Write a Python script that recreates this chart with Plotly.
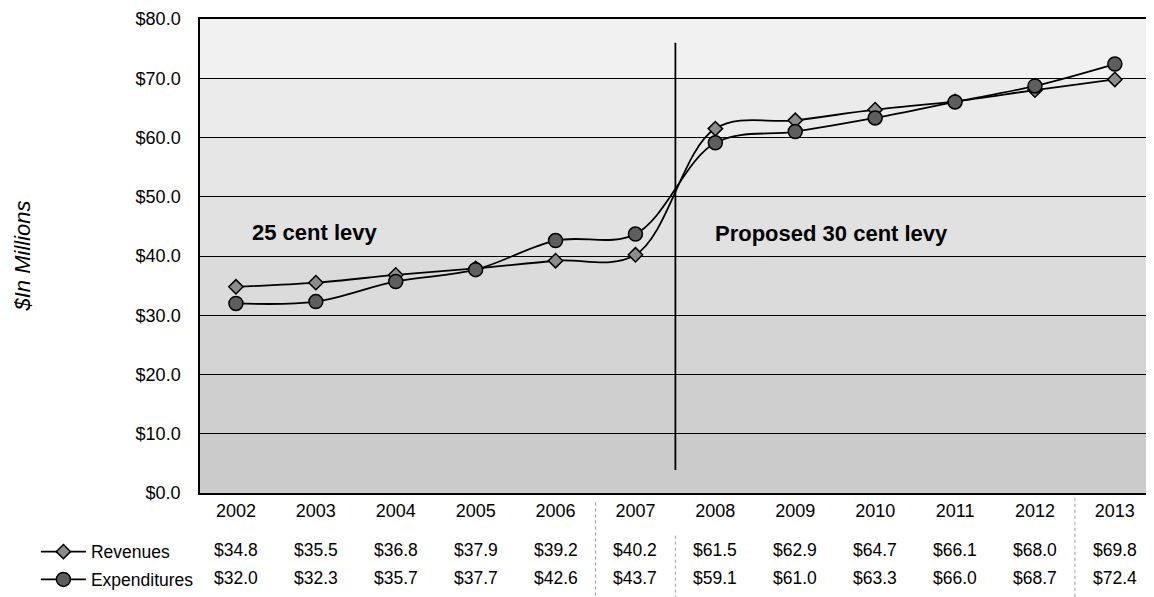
import plotly.graph_objects as go

years = ["2002", "2003", "2004", "2005", "2006", "2007",
         "2008", "2009", "2010", "2011", "2012", "2013"]
revenues = [34.8, 35.5, 36.8, 37.9, 39.2, 40.2, 61.5, 62.9, 64.7, 66.1, 68.0, 69.8]
expenditures = [32.0, 32.3, 35.7, 37.7, 42.6, 43.7, 59.1, 61.0, 63.3, 66.0, 68.7, 72.4]

idx = list(range(len(years)))
FONT = "Liberation Sans, Arial, sans-serif"

fig = go.Figure()
fig.add_trace(go.Scatter(
    x=idx, y=revenues, name="Revenues", mode="lines+markers",
    line=dict(color="black", width=1.8, shape="spline"),
    marker=dict(symbol="diamond", size=11, color="#8c8c8c",
                line=dict(color="black", width=1.5)),
    legendgroup="r",
))
fig.add_trace(go.Scatter(
    x=idx, y=expenditures, name="Expenditures", mode="lines+markers",
    line=dict(color="black", width=1.8, shape="spline"),
    marker=dict(symbol="circle", size=14, color="#5e5e5e",
                line=dict(color="black", width=1.5)),
    legendgroup="e",
))

shapes = []
# background shading bands (lighter at top, darker at bottom)
band_cols = ["#cbcbcb", "#cfcfcf", "#d4d4d4", "#dbdbdb",
             "#e1e1e1", "#e6e6e6", "#ebebeb", "#f1f1f1"]
for k, c in enumerate(band_cols):
    shapes.append(dict(type="rect", xref="paper", yref="y", x0=0, x1=1,
                       y0=k * 10, y1=(k + 1) * 10, fillcolor=c,
                       line=dict(width=0), layer="below"))
# divider between current and proposed levy
shapes.append(dict(type="line", xref="x", yref="y", x0=5.5, x1=5.5,
                   y0=3.9, y1=76, line=dict(color="black", width=1.8)))
# faint dotted separators in the data table
for xs, y0, y1 in [(4.5, -0.02, -0.25), (5.5, -0.09, -0.25), (10.5, -0.01, -0.22)]:
    shapes.append(dict(type="line", xref="x", yref="paper", x0=xs, x1=xs,
                       y0=y0, y1=y1, line=dict(color="#999999", width=1, dash="dot")))

annotations = [
    dict(x=0.99, y=43.9, xref="x", yref="y", text="<b>25 cent levy</b>",
         xanchor="center", yanchor="middle",
         showarrow=False, font=dict(size=22, color="black", family=FONT)),
    dict(x=7.45, y=43.8, xref="x", yref="y", text="<b>Proposed 30 cent levy</b>",
         xanchor="center", yanchor="middle",
         showarrow=False, font=dict(size=22, color="black", family=FONT)),
    dict(x=0, y=0.499, xref="paper", yref="paper", xshift=-178,
         xanchor="center", yanchor="middle",
         text="<i>$In Millions</i>", textangle=-90, showarrow=False,
         font=dict(size=22, color="black", family=FONT)),
]
for i in idx:
    annotations.append(dict(x=i, y=0, xref="x", yref="paper", yshift=-57,
                            xanchor="center", yanchor="middle",
                            text=f"${revenues[i]:.1f}", showarrow=False,
                            font=dict(size=17.5, color="black", family=FONT)))
    annotations.append(dict(x=i, y=0, xref="x", yref="paper", yshift=-85,
                            xanchor="center", yanchor="middle",
                            text=f"${expenditures[i]:.1f}", showarrow=False,
                            font=dict(size=17.5, color="black", family=FONT)))

fig.update_layout(
    width=1154, height=597,
    margin=dict(l=192, r=8, t=11, b=112, autoexpand=False),
    paper_bgcolor="white", plot_bgcolor="#e4e4e4",
    font=dict(family=FONT, size=17, color="black"),
    shapes=shapes, annotations=annotations,
    showlegend=True,
    legend=dict(x=-0.172, y=-0.086, xanchor="left", yanchor="top",
                bgcolor="rgba(0,0,0,0)", font=dict(size=17.5, family=FONT),
                tracegroupgap=2, itemwidth=45),
)
fig.update_xaxes(
    tickmode="array", tickvals=idx, ticktext=years, range=[-0.45, 11.49],
    showgrid=False, zeroline=False, showline=True, linecolor="black",
    linewidth=1.5, mirror=True, ticks="", ticklabelstandoff=1,
    tickfont=dict(size=18, family=FONT), ticklabeloverflow="allow",
)
fig.update_yaxes(
    range=[0, 80], dtick=10, tickformat="$.1f", showgrid=True,
    gridcolor="black", gridwidth=1.3, zeroline=False, showline=True,
    linecolor="black", linewidth=1.5, mirror=True, ticks="",
    tickfont=dict(size=18, family=FONT), ticklabelstandoff=14,
    ticklabeloverflow="allow",
)

fig.write_html("out.html")
